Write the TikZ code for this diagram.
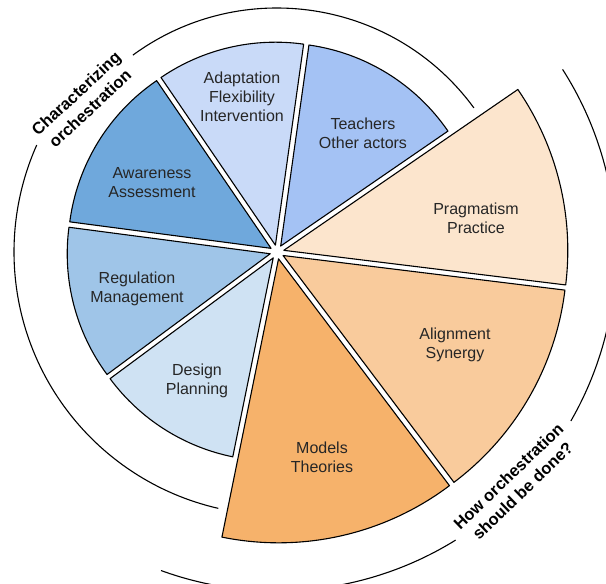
\documentclass[tikz,border=0pt]{standalone}
\usepackage{fontspec}
\setmainfont{Liberation Sans}
\usepackage{tikz}
\tikzset{>=latex}
\definecolor{teachblue}{HTML}{A4C2F4}
\definecolor{adaptblue}{HTML}{C9DAF8}
\definecolor{awareblue}{HTML}{6FA8DC}
\definecolor{regulblue}{HTML}{9FC5E8}
\definecolor{designblue}{HTML}{CFE2F3}
\definecolor{modelorange}{HTML}{F6B26B}
\definecolor{alignorange}{HTML}{F9CB9C}
\definecolor{pragorange}{HTML}{FCE5CD}
\tikzset{sector/.style={draw=black, line width=1.1pt, line join=round},
  slicetext/.style={align=center, text=black!85, font=\fontsize{16}{19}\selectfont},
  sidetext/.style={align=center, font=\fontsize{16.5}{20.5}\selectfont\bfseries},
  rim/.style={line width=1.1pt}}

\begin{document}
\begin{tikzpicture}[x=1pt,y=1pt]
\useasboundingbox (-277,252) rectangle (329,-332);
\clip (-277,252) rectangle (329,-332);
% characterizing side
\draw [sector, fill=teachblue, shift={(58.25:7)}] (0,0) -- (34.5:203) arc (34.5:82:203) -- cycle;
\draw [sector, fill=adaptblue, shift={(103.15:7)}] (0,0) -- (82:203) arc (82:124.3:203) -- cycle;
\draw [sector, fill=awareblue, shift={(148.4:7)}] (0,0) -- (124.3:203) arc (124.3:172.5:203) -- cycle;
\draw [sector, fill=regulblue, shift={(194.5:7)}] (0,0) -- (172.5:203) arc (172.5:216.5:203) -- cycle;
\draw [sector, fill=designblue, shift={(237.5:7)}] (0,0) -- (216.5:203) arc (216.5:258.5:203) -- cycle;
% how it should be done
\draw [sector, fill=modelorange, shift={(282.75:7)}] (0,0) -- (258.5:284) arc (258.5:307:284) -- cycle;
\draw [sector, fill=alignorange, shift={(330:7)}] (0,0) -- (307:284) arc (307:353:284) -- cycle;
\draw [sector, fill=pragorange, shift={(373.75:7)}] (0,0) -- (353:284) arc (353:394.5:284) -- cycle;
% slice labels
\node [slicetext] (teachers) at (86,119) {Teachers\\Other actors};
\node [slicetext] (adaptation) at (-35,155) {Adaptation\\Flexibility\\Intervention};
\node [slicetext] (awareness) at (-125,69) {Awareness\\Assessment};
\node [slicetext] (regulation) at (-140,-37) {Regulation\\Management};
\node [slicetext] (design) at (-80,-129) {Design\\Planning};
\node [slicetext] (models) at (45,-205) {Models\\Theories};
\node [slicetext] (alignment) at (178,-93) {Alignment\\Synergy};
\node [slicetext] (pragmatism) at (199,34) {Pragmatism\\Practice};
% outer arcs
\draw [rim] (36.2:244) arc (36.2:126.2:244);
\draw [rim] (156:263) arc (156:257.1:263);
\node [sidetext, rotate=43] (charact) at (-194,151) {Characterizing\\orchestration};
\draw [rim] (32.6:339) arc (32.6:-29.9:339);
\draw [rim] (-58.2:339) arc (-58.2:-110:339);
\node [sidetext, rotate=44] (howdone) at (238.5,-231.5) {How orchestration\\should be done?};
\end{tikzpicture}
\end{document}
